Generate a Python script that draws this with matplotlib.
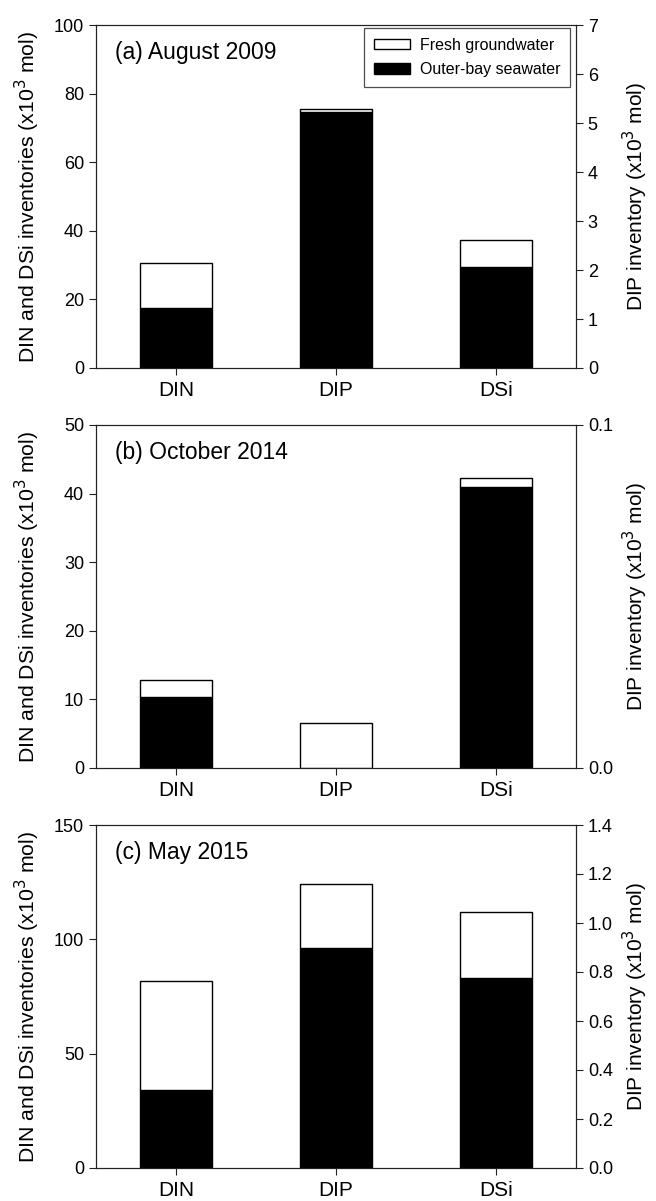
import numpy as np
import matplotlib.pyplot as plt
from matplotlib.patches import Patch

plt.rcParams['font.family'] = ['Liberation Sans', 'DejaVu Sans']

categories = ["DIN", "DIP", "DSi"]
panel_titles = ["(a) August 2009", "(b) October 2014", "(c) May 2015"]

# DIN and DSi (left axis, x10^3 mol): outer-bay seawater part and total
din_outer = [17.4, 10.4, 34.1]
din_total = [30.5, 12.8, 81.8]
dsi_outer = [29.4, 40.9, 83.3]
dsi_total = [37.3, 42.3, 111.8]
# DIP (right axis, x10^3 mol)
dip_outer = [5.23, 0.0, 0.900]
dip_total = [5.29, 0.0131, 1.158]

left_lims = [100, 50, 150]
left_ticks = [np.arange(0, 101, 20), np.arange(0, 51, 10), [0, 50, 100, 150]]
right_lims = [7, 0.1, 1.4]
right_ticks = [np.arange(0, 8, 1), [0.0, 0.1], np.arange(0, 1.41, 0.2)]
right_fmt = ["{:.0f}", "{:.1f}", "{:.1f}"]

fig = plt.figure(figsize=(6.56, 12.01), dpi=100)
bottoms = [1 - 368 / 1201, 1 - 768 / 1201, 1 - 1168 / 1201]
x = np.arange(len(categories))
w = 0.45
ec = '#222222'

for i in range(3):
    ax = fig.add_axes([96 / 656, bottoms[i], 480 / 656, 343 / 1201])
    ax2 = ax.twinx()

    # DIN and DSi on left axis
    for j, (o, t) in zip([0, 2], [(din_outer[i], din_total[i]), (dsi_outer[i], dsi_total[i])]):
        ax.bar(x[j], o, w, color='black', edgecolor='black', linewidth=1)
        ax.bar(x[j], t - o, w, bottom=o, color='white', edgecolor='black', linewidth=1)
    # DIP on right axis
    if dip_outer[i] > 0:
        ax2.bar(x[1], dip_outer[i], w, color='black', edgecolor='black', linewidth=1)
    ax2.bar(x[1], dip_total[i] - dip_outer[i], w, bottom=dip_outer[i],
            color='white', edgecolor='black', linewidth=1)

    ax.set_xlim(-0.5, 2.5)
    ax.set_ylim(0, left_lims[i])
    ax.set_yticks(left_ticks[i])
    ax2.set_ylim(0, right_lims[i])
    ax2.set_yticks(right_ticks[i])
    ax2.set_yticklabels([right_fmt[i].format(v) for v in right_ticks[i]])
    ax.set_xticks(x)
    ax.set_xticklabels(categories, fontsize=15)

    for a in (ax, ax2):
        a.tick_params(axis='y', labelsize=13, length=5, width=0.8, color=ec)
        a.tick_params(axis='x', length=5, width=0.8, color=ec, pad=4)
        for s in a.spines.values():
            s.set_color(ec)
            s.set_linewidth(0.8)

    ax.set_ylabel("DIN and DSi inventories (x10$^3$ mol)", fontsize=15.3)
    ax.yaxis.set_label_coords(-0.112, 0.5)
    ax2.set_ylabel("DIP inventory (x10$^3$ mol)", fontsize=15)
    ax2.yaxis.set_label_coords(1.093, 0.5)
    ax.text(0.04, 0.92, panel_titles[i], transform=ax.transAxes, fontsize=16.5,
            va='center', ha='left')

    if i == 0:
        handles = [Patch(facecolor='white', edgecolor='black', label='Fresh groundwater'),
                   Patch(facecolor='black', edgecolor='black', label='Outer-bay seawater')]
        leg = ax2.legend(handles=handles, loc='upper right',
                         bbox_to_anchor=(0.9875, 0.991), borderaxespad=0,
                         fontsize=11.5, frameon=True, fancybox=False, edgecolor=ec,
                         handlelength=2.3, handleheight=0.65, handletextpad=0.6,
                         labelspacing=0.6, borderpad=0.6)
        leg.get_frame().set_linewidth(0.9)

fig.savefig("out.png", dpi=100)
